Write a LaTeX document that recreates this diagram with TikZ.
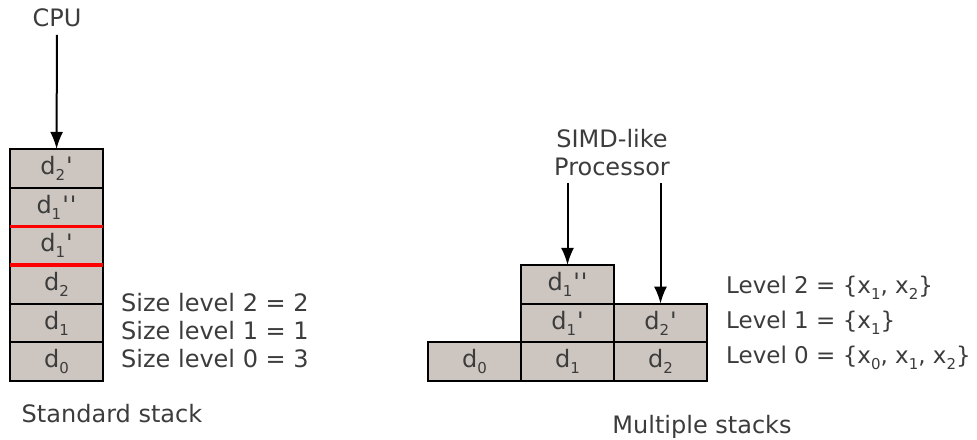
\documentclass[tikz,border=0pt]{standalone}
\usepackage{fontspec}
\setmainfont{DejaVu Sans}
\usetikzlibrary{arrows.meta}
\definecolor{cellfill}{RGB}{205,198,192}
\definecolor{txtgray}{RGB}{60,60,60}
\newcommand{\low}[1]{\raisebox{-6pt}{\fontsize{15}{15}\selectfont #1}}
\newcommand{\dsub}[2]{d\low{#1}#2}
\newcommand{\pr}{\kern1pt\textquotesingle}

\begin{document}
\begin{tikzpicture}[x=1pt,y=-1pt,>={Latex[length=17pt,width=13pt]},
    font=\fontsize{24}{28}\selectfont,text=txtgray,
    cell/.style={draw=black,line width=2.2pt,fill=cellfill,minimum width=93pt,
        minimum height=38.67pt,inner sep=0pt,outer sep=0pt},
    lbl/.style={anchor=base west,inner sep=0pt},
    arr/.style={->,line width=2pt}]
        \useasboundingbox (0,0) rectangle (977,439);

        % standard stack
        \foreach \i/\lab in {0/{\dsub{0}{}},1/{\dsub{1}{}},2/{\dsub{2}{}},
        3/{\dsub{1}{\pr}},4/{\dsub{1}{\pr\pr}},5/{\dsub{2}{\pr}}}
        {
            \node[cell] (s\i) at (56.5,{381-38.67*(\i+0.5)}) {\lab};
        }
        \draw[red,line width=3.5pt] (s3.north west)--(s3.north east);
        \draw[red,line width=3.5pt] (s3.south west)--(s3.south east);

        \node (cpu) at (57,27)[anchor=base]{CPU};
        \draw[arr,shorten <=4pt] (cpu)--(s5);

        \node[lbl] (sz2) at (121,311){Size level 2 = 2};
        \node[lbl] (sz1) at (121,339){Size level 1 = 1};
        \node[lbl] (sz0) at (121,367){Size level 0 = 3};
        \node (std) at (112,422)[anchor=base]{Standard stack};

        % multiple stacks
        \node[cell] (m0) at (474.5,361.7){\dsub{0}{}};
        \node[cell] (m1) at (567.5,361.7){\dsub{1}{}};
        \node[cell] (m1a) at (567.5,323){\dsub{1}{\pr}};
        \node[cell] (m1b) at (567.5,284.3){\dsub{1}{\pr\pr}};
        \node[cell] (m2) at (660.5,361.7){\dsub{2}{}};
        \node[cell] (m2a) at (660.5,323){\dsub{2}{\pr}};

        \node (simd) at (612,153)[align=center]{SIMD-like\\Processor};
        \draw[arr,shorten <=3pt] (m1b.north |- simd.south)--(m1b.north);
        \draw[arr,shorten <=3pt] (m2a.north |- simd.south)--(m2a.north);

        \begin{scope}[font=\fontsize{23}{28}\selectfont]
        \node[lbl] (lv2) at (726,293){Level 2 = \{x\low{1}, x\low{2}\}};
        \node[lbl] (lv1) at (726,328){Level 1 = \{x\low{1}\}};
        \node[lbl] (lv0) at (726,363){Level 0 = \{x\low{0}, x\low{1}, x\low{2}\}};
        \end{scope}
        \node (mul) at (702,433)[anchor=base]{Multiple stacks};
\end{tikzpicture}
\end{document}
